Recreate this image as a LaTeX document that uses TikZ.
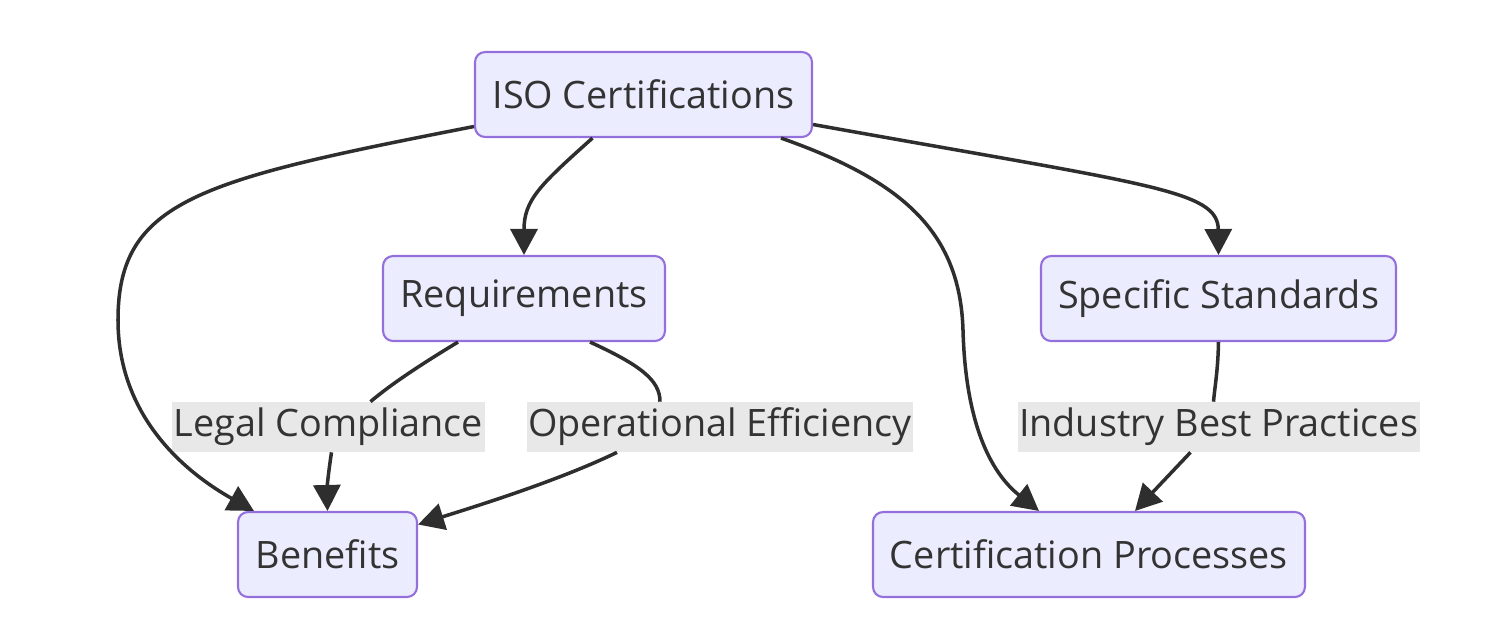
\documentclass[tikz,border=0pt]{standalone}
\usepackage{fontspec}
\setmainfont{Open Sans}
\usepackage{xcolor}
\usetikzlibrary{calc,arrows.meta,positioning}
\definecolor{boxfill}{HTML}{ECECFF}
\definecolor{boxline}{HTML}{9370DB}
\definecolor{lblfill}{HTML}{E8E8E8}
\definecolor{inkc}{HTML}{333333}
\tikzset{
  stage/.style={draw=boxline, fill=boxfill, line width=1.2pt, rounded corners=2mm,
    minimum height=1.7cm, text=inkc, font=\fontsize{21.5}{24}\selectfont},
  lbl/.style={fill=lblfill, inner xsep=0.3mm, minimum height=1cm, text=inkc,
    font=\fontsize{21.5}{24}\selectfont},
  link/.style={line width=2pt, draw=inkc!90!black},
  linkarr/.style={link, -{Triangle[length=5.2mm,width=5.4mm]}}
}
\begin{document}
\begin{tikzpicture}[x=0.02cm, y=-0.02cm]
\useasboundingbox (0,0) rectangle (1489,627);

% Boxes
\node[stage, minimum width=6.74cm] (iso) at (643.5,94.5) {ISO Certifications};
\node[stage, minimum width=5.64cm] (req) at (524,298.5) {Requirements};
\node[stage, minimum width=7.1cm] (spec) at (1218.5,298.5) {Specific Standards};
\node[stage, minimum width=3.58cm] (ben) at (327.5,554.5) {Benefits};
\node[stage, minimum width=8.64cm] (cert) at (1089,554.5) {Certification Processes};

% Edge labels
\node[lbl] (lc) at (328.5,427) {Legal Compliance};
\node[lbl] (oe) at (720,427) {Operational Efficiency};
\node[lbl] (ibp) at (1218.5,427) {Industry Best Practices};

% Edges from the top box
\draw[linkarr] ($(iso.west)+(0,32)$) .. controls (200,180) and (118,200) .. (118,320)
  .. controls (118,420) and (190,475) .. ($(ben.north west)+(17,0)$);
\draw[linkarr] ($(iso.south)+(-51,0)$) .. controls (540,185) and (524,200) .. (req.north);
\draw[linkarr] ($(iso.south east)+(-32,0)$) .. controls (900,180) and (960,230) .. (963,330)
  .. controls (966,440) and (1000,480) .. ($(cert.north west)+(167,0)$);
\draw[linkarr] ($(iso.east)+(0,30)$) .. controls (1150,185) and (1218,190) .. (spec.north);

% Edges through the labels
\draw[link] ($(req.south)+(-66,0)$) .. controls (420,365) and (390,385) .. ($(lc.north)+(42,0)$);
\draw[linkarr] ($(lc.south)+(3,0)$) .. controls (328,475) and (327,490) .. (ben.north);
\draw[link] ($(req.south)+(66,0)$) .. controls (640,365) and (660,380) .. ($(oe.north)+(-60,0)$);
\draw[linkarr] ($(oe.south)+(-103,0)$) .. controls (560,480) and (480,505) .. ($(ben.east)+(0,-30)$);
\draw[link] (spec.south) .. controls (1218,370) and (1215,385) .. ($(ibp.north)+(-5,0)$);
\draw[linkarr] ($(ibp.south)+(-28,0)$) -- ($(cert.north)+(46,0)$);

\end{tikzpicture}
\end{document}
